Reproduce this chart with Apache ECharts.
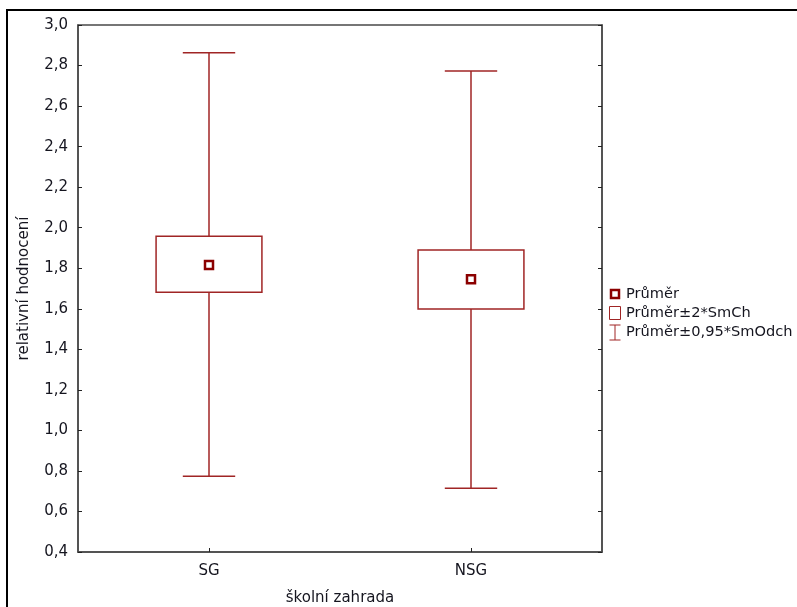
<!DOCTYPE html>
<html>
<head>
<meta charset="utf-8">
<script src="https://cdn.jsdelivr.net/npm/echarts@6/dist/echarts.min.js"></script>
<style>
html,body{margin:0;padding:0;background:#fff;}
#chart{width:797px;height:607px;}
</style>
</head>
<body>
<div id="chart"></div>
<script>
// ---- data ----
var categories = ['SG', 'NSG'];
var means = [1.816, 1.746];
var seLow = [1.682, 1.599];
var seHigh = [1.958, 1.890];
var sdLow = [0.774, 0.715];
var sdHigh = [2.863, 2.773];
var legendNames = ['Průměr', 'Průměr±2*SmCh', 'Průměr±0,95*SmOdch'];
var yMin = 0.4, yMax = 3.0, yStep = 0.2;

var FONT = 'DejaVu Sans';
var FS = 15;
var LFS = 14.6;
var TXT = '#15151f';
var LINE = '#a02525';
var MEAN = '#8b0000';

var chart = echarts.init(document.getElementById('chart'), null, {renderer: 'canvas'});

function fmt(v) { return v.toFixed(1).replace('.', ','); }

var whiskerData = categories.map(function (c, i) { return [i, sdLow[i], sdHigh[i]]; });
var boxData = categories.map(function (c, i) { return [i, seLow[i], seHigh[i]]; });
var meanData = categories.map(function (c, i) { return [i, means[i]]; });

var option = {
  animation: false,
  backgroundColor: '#fff',
  grid: {left: 78, top: 25, right: 195, bottom: 55, containLabel: false, outerBoundsMode: 'none',
    show: true, borderColor: '#4a4a4a', borderWidth: 1.5, backgroundColor: '#fff'},
  xAxis: {
    type: 'category',
    data: categories,
    boundaryGap: true,
    name: 'školní zahrada',
    nameLocation: 'middle',
    nameGap: 39,
    nameTextStyle: {fontFamily: FONT, fontSize: FS, color: TXT},
    axisLine: {show: true, lineStyle: {color: '#4a4a4a', width: 1.5}},
    axisTick: {show: true, inside: true, alignWithLabel: true, length: 4, lineStyle: {color: '#222'}},
    axisLabel: {fontFamily: FONT, fontSize: FS, color: TXT, margin: 12},
    splitLine: {show: false}
  },
  yAxis: [{
    type: 'value',
    min: yMin, max: yMax, interval: yStep,
    name: 'relativní hodnocení',
    nameLocation: 'middle',
    nameGap: 46,
    nameRotate: 90,
    nameTextStyle: {fontFamily: FONT, fontSize: FS, color: TXT},
    axisLine: {show: true, lineStyle: {color: '#4a4a4a', width: 1.5}},
    axisTick: {show: true, inside: true, length: 4, lineStyle: {color: '#222'}},
    axisLabel: {fontFamily: FONT, fontSize: FS, color: TXT, margin: 10, formatter: fmt},
    splitLine: {show: false}
  }, {
    type: 'value',
    position: 'right',
    min: yMin, max: yMax, interval: yStep,
    axisLine: {show: true, lineStyle: {color: '#4a4a4a', width: 1.5}},
    axisTick: {show: true, inside: true, length: 4, lineStyle: {color: '#222'}},
    axisLabel: {show: false},
    splitLine: {show: false}
  }],
  series: [{
    name: legendNames[2],
    type: 'custom',
    data: whiskerData,
    renderItem: function (params, api) {
      var x = api.value(0);
      var lo = api.coord([x, api.value(1)]);
      var hi = api.coord([x, api.value(2)]);
      var bw = api.size([1, 0])[0];
      var cw = bw * 0.2;
      var st = {stroke: LINE, lineWidth: 1.5, fill: null};
      return {type: 'group', children: [
        {type: 'line', shape: {x1: hi[0], y1: hi[1], x2: lo[0], y2: lo[1]}, style: st},
        {type: 'line', shape: {x1: hi[0] - cw / 2, y1: hi[1], x2: hi[0] + cw / 2, y2: hi[1]}, style: st},
        {type: 'line', shape: {x1: lo[0] - cw / 2, y1: lo[1], x2: lo[0] + cw / 2, y2: lo[1]}, style: st}
      ]};
    },
    z: 2
  }, {
    name: legendNames[1],
    type: 'custom',
    data: boxData,
    renderItem: function (params, api) {
      var x = api.value(0);
      var lo = api.coord([x, api.value(1)]);
      var hi = api.coord([x, api.value(2)]);
      var bw = api.size([1, 0])[0] * 0.404;
      return {type: 'rect', shape: {x: lo[0] - bw / 2, y: hi[1], width: bw, height: lo[1] - hi[1]},
        style: {stroke: LINE, lineWidth: 1.5, fill: '#fff'}};
    },
    z: 3
  }, {
    name: legendNames[0],
    type: 'custom',
    data: meanData,
    renderItem: function (params, api) {
      var p = api.coord([api.value(0), api.value(1)]);
      var s = 8;
      return {type: 'rect', shape: {x: p[0] - s / 2, y: p[1] - s / 2, width: s, height: s},
        style: {stroke: MEAN, lineWidth: 2.5, fill: '#fff'}};
    },
    z: 4
  }],
  graphic: [
    {type: 'rect', silent: true, z: 100, shape: {x: 7, y: 10, width: 900, height: 700},
      style: {fill: null, stroke: '#000', lineWidth: 2}},
    // legend
    {type: 'rect', shape: {x: 611, y: 290, width: 8, height: 8}, style: {fill: '#fff', stroke: MEAN, lineWidth: 2.5}},
    {type: 'text', x: 626, y: 294, style: {text: legendNames[0], font: LFS + 'px "' + FONT + '"', fill: TXT, textVerticalAlign: 'middle'}},
    {type: 'rect', shape: {x: 609.5, y: 306.5, width: 11, height: 13}, style: {fill: '#fff', stroke: LINE, lineWidth: 1}},
    {type: 'text', x: 626, y: 313, style: {text: legendNames[1], font: LFS + 'px "' + FONT + '"', fill: TXT, textVerticalAlign: 'middle'}},
    {type: 'line', shape: {x1: 615, y1: 325, x2: 615, y2: 340}, style: {stroke: LINE, lineWidth: 1}},
    {type: 'line', shape: {x1: 609.5, y1: 325, x2: 620.5, y2: 325}, style: {stroke: LINE, lineWidth: 1}},
    {type: 'line', shape: {x1: 609.5, y1: 340, x2: 620.5, y2: 340}, style: {stroke: LINE, lineWidth: 1}},
    {type: 'text', x: 626, y: 332, style: {text: legendNames[2], font: LFS + 'px "' + FONT + '"', fill: TXT, textVerticalAlign: 'middle'}}
  ]
};
chart.setOption(option);
</script>
</body>
</html>
